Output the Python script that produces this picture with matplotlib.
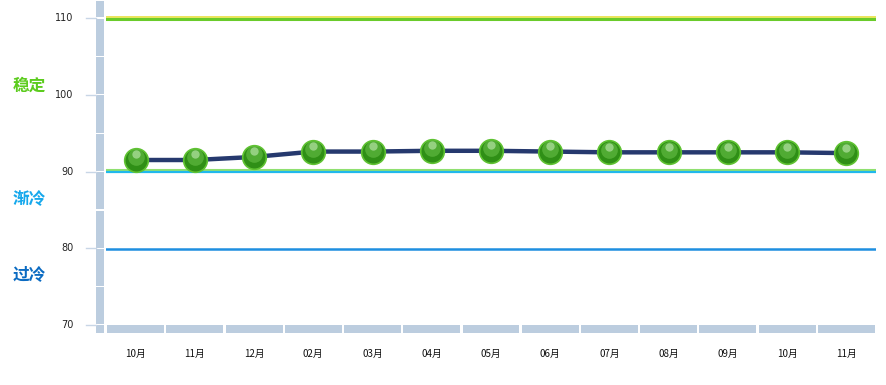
import matplotlib
matplotlib.use('Agg')
import matplotlib.pyplot as plt
from matplotlib.patches import Rectangle
from matplotlib.transforms import offset_copy

plt.rcParams['font.family'] = ['Noto Sans CJK SC', 'DejaVu Sans']

months = ['10月', '11月', '12月', '02月', '03月', '04月', '05月', '06月',
          '07月', '08月', '09月', '10月', '11月']
values = [91.5, 91.5, 91.9, 92.6, 92.6, 92.7, 92.7, 92.6, 92.5, 92.5, 92.5, 92.5, 92.4]
yticks = [70, 80, 90, 100, 110]
zones = ['稳定', '渐冷', '过冷']
zone_y = [101.2, 86.4, 76.6]
zone_colors = ['#5ccc1e', '#16a8ec', '#0b6bc2']

fig = plt.figure(figsize=(8.87, 3.85), dpi=100)
ax = fig.add_axes([106 / 887, 60 / 385, 770 / 887, 325 / 385])
n = len(months)
ax.set_xlim(0, n)
ax.set_ylim(70, 112.35)
ax.axis('off')

xs = [i + 0.5 for i in range(n)]

# reference lines
ax.axhline(110.12, color='#e8e040', lw=1.2, zorder=2)
ax.axhline(109.9, color='#6acb2a', lw=2.2, zorder=2)
ax.axhline(90.15, color='#8fe070', lw=1.5, zorder=2)
ax.axhline(89.9, color='#20b8ec', lw=1.6, zorder=2)
ax.axhline(79.9, color='#1e8fe0', lw=1.8, zorder=2)

# frame bars
bar = '#bccddf'
for y0 in range(70, 112, 5):
    top = min(y0 + 5, 112.35)
    ax.add_patch(Rectangle((-0.17, y0 + 0.08), 0.14, top - y0 - 0.16, color=bar,
                           clip_on=False, lw=0))
ax.add_patch(Rectangle((-0.17, 68.95), 0.14, 1.0, color=bar, clip_on=False, lw=0))
for i in range(n):
    ax.add_patch(Rectangle((i + 0.02, 68.95), 0.96, 1.0, color=bar, clip_on=False, lw=0))
for t in yticks:
    ax.plot([-0.34, -0.17], [t, t], color='#c8d6e6', lw=1, clip_on=False)
    ax.text(-0.55, t, str(t), ha='right', va='center', fontsize=7, color='#222222',
            family='DejaVu Sans')

for x, m in zip(xs, months):
    ax.text(x, 66.2, m, ha='center', va='center', fontsize=7, color='#111111')

for z, zy, zc in zip(zones, zone_y, zone_colors):
    ax.text(-1.58, zy, z, color=zc, fontsize=12, fontweight='bold', va='center', ha='left')

# series
ax.plot(xs, values, color='#26396e', lw=3.2, zorder=3, solid_capstyle='round')
ax.plot(xs, values, 'o', ms=17, mfc='#2f8f16', mec='#5fc232', mew=1.2, zorder=4)
hl = offset_copy(ax.transData, fig=fig, x=0, y=2, units='points')
ax.plot(xs, values, 'o', ms=12, mfc='#8fe06a', mec='none', alpha=0.35, zorder=5,
        transform=hl)
hl2 = offset_copy(ax.transData, fig=fig, x=0, y=4, units='points')
ax.plot(xs, values, 'o', ms=6, mfc='#e8ffe0', mec='none', alpha=0.45, zorder=6,
        transform=hl2)

fig.savefig('out.png', dpi=100)
